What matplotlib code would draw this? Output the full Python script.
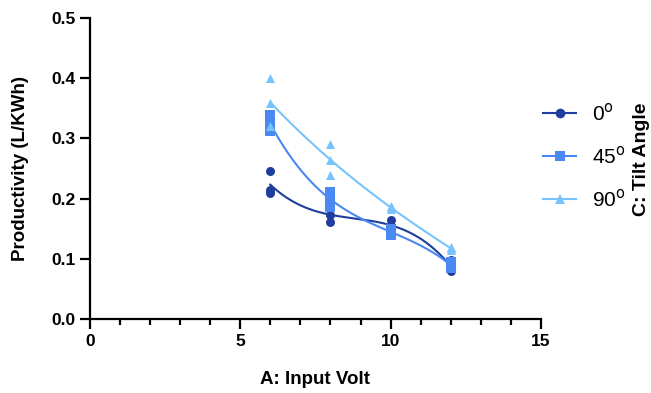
import matplotlib
matplotlib.use('Agg')
import matplotlib.pyplot as plt
import numpy as np

plt.rcParams['font.family'] = ['Liberation Sans', 'DejaVu Sans']

# Input voltage levels and replicate productivity readings per tilt angle
volts = [6, 8, 10, 12]
prod_0 = [[0.246, 0.215, 0.209],
          [0.186, 0.173, 0.161],
          [0.165, 0.155, 0.148],
          [0.098, 0.085, 0.080]]
prod_45 = [[0.339, 0.322, 0.312],
           [0.211, 0.200, 0.186],
           [0.150, 0.145, 0.140],
           [0.095, 0.090, 0.085]]
prod_90 = [[0.401, 0.359, 0.320],
           [0.291, 0.264, 0.239],
           [0.188, 0.186, 0.183],
           [0.120, 0.118, 0.115]]

labels = ['0$^{\\mathrm{o}}$', '45$^{\\mathrm{o}}$', '90$^{\\mathrm{o}}$']
colors = ['#1e3d9c', '#4a88f2', '#77c3fb']
markers = ['o', 's', '^']

fig = plt.figure(figsize=(6.51, 3.93), dpi=100)
ax = fig.add_axes([0.138, 0.188, 0.693, 0.766])

series = [prod_90, prod_45, prod_0]
order = [2, 1, 0]
handles = {}
for data, i in zip(series, order):
    arr = np.array(data)
    xs = np.repeat(volts, arr.shape[1])
    ax.scatter(xs, arr.ravel(), marker=markers[i], color=colors[i], s=42,
               linewidths=0, zorder=3 + i)
    # smooth curve through the replicate means
    means = arr.mean(axis=1)
    coef = np.polyfit(volts, means, 3)
    xf = np.linspace(volts[0], volts[-1], 200)
    ax.plot(xf, np.polyval(coef, xf), color=colors[i], lw=1.5, zorder=2 + i)
    handles[i] = ax.plot([], [], color=colors[i], lw=1.5, marker=markers[i],
                         markersize=7, markeredgewidth=0)[0]

ax.set_xlim(0, 15)
ax.set_ylim(0, 0.5)
ax.set_xticks([0, 5, 10, 15])
ax.set_xticks(np.arange(0, 16, 1), minor=True)
ax.set_yticks(np.arange(0, 0.51, 0.1))
ax.set_yticklabels([f'{v:.1f}' for v in np.arange(0, 0.51, 0.1)])

for s in ['top', 'right']:
    ax.spines[s].set_visible(False)
for s in ['left', 'bottom']:
    ax.spines[s].set_linewidth(1.6)
ax.tick_params(axis='both', which='major', length=7, width=1.6, labelsize=12.5)
ax.tick_params(axis='x', which='minor', length=4.5, width=1.6)
for lab in ax.get_xticklabels() + ax.get_yticklabels():
    lab.set_fontweight('bold')

ax.set_xlabel('A: Input Volt', fontsize=13.5, fontweight='bold', labelpad=16)
ax.set_ylabel('Productivity (L/KWh)', fontsize=13.5, fontweight='bold', labelpad=16)

leg = fig.legend([handles[0], handles[1], handles[2]], labels,
                 loc='upper left', bbox_to_anchor=(543 / 651, 1 - 102 / 393),
                 frameon=False, fontsize=15, handlelength=1.6,
                 labelspacing=1.02, handletextpad=0.75,
                 borderpad=0, borderaxespad=0)

fig.text(0.985, 0.595, 'C: Tilt Angle', rotation=90, ha='center', va='center',
         fontsize=14, fontweight='bold')

fig.savefig('out.png', dpi=100)
